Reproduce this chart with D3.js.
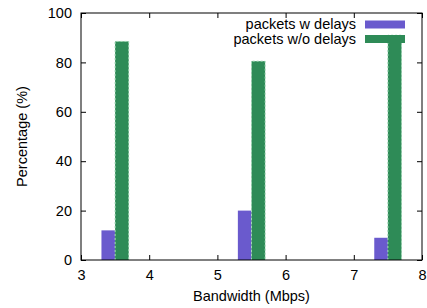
<!DOCTYPE html>
<html lang="en">
<head>
  <meta charset="UTF-8">
  <title>Bandwidth delays</title>
  <style>
    body { margin: 0; background: white; }
    text { font-family: "Liberation Sans", Arial, sans-serif; font-size: 14.5px; fill: #000; }
  </style>
  <script src="https://cdn.jsdelivr.net/npm/d3@7"></script>
</head>
<body>
<svg width="427" height="308"></svg>
<script>
var bandwidth = [3.4, 5.4, 7.4];
var withDelays = [12, 20, 9];
var withoutDelays = [88.5, 80.5, 91];
var xTicks = [3, 4, 5, 6, 7, 8];
var yTicks = [0, 20, 40, 60, 80, 100];
var seriesNames = ["packets w delays", "packets w/o delays"];
var colors = ["#6a5acd", "#2e8b57"];

var svg = d3.select("svg");
var mLeft = 81, mRight = 422, mTop = 13, mBottom = 260;
var x = d3.scaleLinear().domain([3, 8]).range([mLeft, mRight]);
var y = d3.scaleLinear().domain([0, 100]).range([mBottom, mTop]);
var barW = 0.2;

// bars
var series = [withDelays, withoutDelays];
series.forEach(function(vals, s) {
    svg.append("g").selectAll("rect")
        .data(vals)
        .enter().append("rect")
        .attr("x", function(d, i) { return x(bandwidth[i] - 0.1 + s * barW); })
        .attr("width", x(3 + barW) - x(3))
        .attr("y", function(d) { return y(d); })
        .attr("height", function(d) { return y(0) - y(d); })
        .attr("fill", colors[s]);
});
// green dashed light borders
svg.append("g").selectAll("path")
    .data(withoutDelays)
    .enter().append("path")
    .attr("d", function(d, i) {
        var x0 = x(bandwidth[i] + 0.1), x1 = x(bandwidth[i] + 0.3);
        return "M" + x0 + "," + y(0) + "V" + y(d) + "H" + x1 + "V" + y(0);
    })
    .attr("fill", "none")
    .attr("stroke", "#9fd8b4")
    .attr("stroke-width", 1)
    .attr("stroke-dasharray", "2,2");

// axes with mirrored ticks
var fmt = d3.format("d");
svg.append("g").attr("transform", "translate(0," + mBottom + ")")
    .call(d3.axisBottom(x).tickValues(xTicks).tickSizeInner(-5).tickSizeOuter(0).tickPadding(10).tickFormat(fmt))
    .call(function(g) { g.select(".domain").remove(); });
svg.append("g").attr("transform", "translate(0," + mTop + ")")
    .call(d3.axisTop(x).tickValues(xTicks).tickSizeInner(-5).tickSizeOuter(0).tickFormat(""))
    .call(function(g) { g.select(".domain").remove(); });
svg.append("g").attr("transform", "translate(" + mLeft + ",0)")
    .call(d3.axisLeft(y).tickValues(yTicks).tickSizeInner(-5).tickSizeOuter(0).tickPadding(9).tickFormat(fmt))
    .call(function(g) { g.select(".domain").remove(); });
svg.append("g").attr("transform", "translate(" + mRight + ",0)")
    .call(d3.axisRight(y).tickValues(yTicks).tickSizeInner(-5).tickSizeOuter(0).tickFormat(""))
    .call(function(g) { g.select(".domain").remove(); });
svg.selectAll(".tick text").style("font-size", "14.5px").style("font-family", "'Liberation Sans', Arial, sans-serif");

svg.append("rect")
    .attr("x", mLeft).attr("y", mTop)
    .attr("width", mRight - mLeft).attr("height", mBottom - mTop)
    .attr("fill", "none").attr("stroke", "#000").attr("stroke-width", 1);

// legend
var legend = svg.append("g").selectAll("g")
    .data(seriesNames)
    .enter().append("g")
    .attr("transform", function(d, i) { return "translate(0," + (24 + i * 14.5) + ")"; });
legend.append("text")
    .attr("x", 356).attr("y", 5)
    .attr("text-anchor", "end")
    .text(function(d) { return d; });
legend.append("rect")
    .attr("x", 365).attr("y", -3.5)
    .attr("width", 40).attr("height", 8)
    .attr("fill", function(d, i) { return colors[i]; });

// axis titles
svg.append("text")
    .attr("x", (mLeft + mRight) / 2).attr("y", 301)
    .attr("text-anchor", "middle")
    .text("Bandwidth (Mbps)");
svg.append("text")
    .attr("transform", "translate(27," + ((mTop + mBottom) / 2) + ") rotate(-90)")
    .attr("text-anchor", "middle")
    .text("Percentage (%)");
</script>
</body>
</html>
